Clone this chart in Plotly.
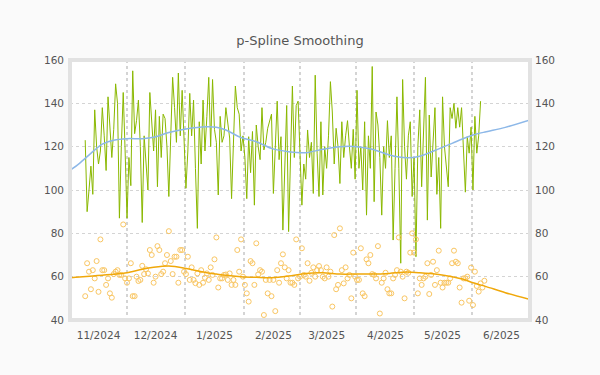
import pandas as pd
import plotly.graph_objects as go

# ---------------- data ----------------
green_start = "2024-10-25"
green_values = [
    123, 90, 100, 111, 98, 137, 120, 112, 118, 138,
    125, 109, 143, 130, 115, 128, 149, 140, 87, 120,
    145, 118, 87, 115, 102, 155, 126, 132, 141.5, 120,
    85, 125, 112, 100, 145, 130, 118, 137, 101.5, 134,
    115, 135, 133, 120, 97, 125, 152, 138, 122, 154,
    125, 146, 120, 100.8, 118, 144.6, 125, 141.5, 110, 82.3,
    131.5, 112, 141.5, 118, 134, 152, 120, 151, 128, 122,
    97.7, 134, 122, 125, 138, 130, 124, 96, 120, 148,
    138, 135, 118, 125, 115, 96, 124.6, 108, 127, 93,
    130, 120, 114, 138, 118.5, 122, 128.5, 132, 135, 98.4,
    120, 141, 114, 124.6, 81.5, 110, 139, 80.8, 115, 148,
    115, 139, 141, 118, 93, 112, 105, 127.7, 115, 122,
    98.4, 153, 117, 97, 131.5, 97.7, 120, 110, 125, 150,
    136, 112, 128.5, 120, 103, 131.5, 115, 125, 132, 120,
    110, 128, 105, 146, 110, 120, 100, 131.5, 88.4, 125,
    110, 157, 94.6, 136, 130, 115, 88.4, 120, 110, 132,
    115, 125, 76.9, 110, 143, 110, 66.2, 151, 120, 105,
    125, 131.5, 97, 115, 69.2, 120, 137, 101.5, 125, 152,
    86.1, 134.6, 106, 120, 138, 98, 115, 82.3, 143, 120,
    110, 101.5, 138, 133, 140, 128.5, 138, 129, 138, 120,
    99, 124.6, 117, 129, 100, 134, 117, 125, 141,
]

orange_start = "2024-10-25"
orange_values = [
    51, 66.2, 62.3, 54.2, 63, 59.2, 67.2, 53, 77.2, 63,
    63, 56.2, 59.2, 52.3, 50.3, 61.2, 62.3, 63, 60.8, 60.8,
    84.1, 59.2, 57.2, 59.2, 66.2, 51, 51, 60, 58, 58.5,
    65, 61.2, 63.4, 61.5, 72.3, 70, 57.2, 60, 74.1, 72.3,
    61.2, 62.3, 66.2, 70, 81, 67.2, 61.2, 69.2, 69.2, 57.2,
    72.3, 72.3, 62.3, 61.2, 69.2, 58.5, 64.3, 58.5, 57, 61.5,
    56.2, 63, 57.2, 59.5, 61.5, 58.5, 64.3, 60.8, 68, 78.1,
    55, 59.2, 59.2, 60.8, 61, 58.5, 61.5, 56.2, 58.5, 56.2,
    72.3, 62.3, 77.2, 60, 56.2, 52.3, 48.5, 67.2, 66.2, 56.2, 75.4,
    61, 63, 62.3, 42.3, 58.5, 52.3, 58.5, 51, 58.5, 44.1,
    63, 57.2, 66.2, 70.3, 64.3, 59.2, 63, 57.2, 57.2, 56.2,
    77.2, 59.2, 60, 73.1, 60.8, 60, 66.2, 58.1, 61.8, 64.3,
    60, 63, 64.9, 63, 60, 59.2, 64.3, 60, 62.3, 46.2,
    79.2, 54.2, 56.2, 82.3, 63, 56.9, 64.3, 59.2, 60.8, 50,
    71.1, 60, 58.5, 58.5, 73.1, 52.3, 51, 68, 66.2, 70,
    61.2, 60.8, 59.2, 74.1, 43, 57.2, 59.2, 61.8, 54.2, 52.3,
    52.3, 59.2, 60.8, 63, 78.1, 62.3, 60, 50, 62.3, 61.8,
    71.1, 80, 71.1, 77.2, 52.3, 59.2,
    56.2, 59.2, 60, 66.2, 52, 60.8, 66.9, 56.2, 63, 72,
    57.2, 55, 57.2, 57.2, 57.2, 59.2, 66.2, 72, 66.9, 66.2,
    55, 48, 59.2, 59.2, 60, 48.9, 64.2, 46.9, 62.3, 55.7,
    53.1, 56.9, 55, 58.1,
]

smooth_dates = [
    "2024-10-17", "2024-10-22", "2024-10-29", "2024-11-03", "2024-11-09",
    "2024-11-16", "2024-11-24", "2024-11-30", "2024-12-08", "2024-12-17",
    "2024-12-28", "2025-01-02", "2025-01-07", "2025-01-15", "2025-01-23",
    "2025-01-31", "2025-02-09", "2025-02-18", "2025-02-27", "2025-03-08",
    "2025-03-17", "2025-03-25", "2025-04-03", "2025-04-12", "2025-04-19",
    "2025-04-29", "2025-05-06", "2025-05-12", "2025-05-17", "2025-05-24",
    "2025-06-03", "2025-06-16",
]
blue_smooth = [
    109, 112.3, 117.7, 121.2, 123, 123.7, 123.7, 124.3, 126.5, 128.2,
    129.2, 129, 127.7, 124.2, 122.3, 119.2, 117.7, 117.2, 118.8, 120,
    120, 118.8, 116.2, 114.9, 115.6, 119, 121.5, 123.8, 125.4, 126.9,
    128.9, 132.3,
]
orange_smooth = [
    59.5, 59.8, 60.3, 60.7, 61.1, 61.8, 63.4, 64.3, 64.9, 63.8,
    61.8, 61.2, 60.6, 60, 59.7, 59.5, 60.3, 61.5, 61.8, 61.2,
    61.2, 61.2, 61.5, 62.1, 61.8, 61, 60, 58.8, 57.2, 55.4,
    52.6, 49.5,
]

month_ticks = ["2024-11-01", "2024-12-01", "2025-01-01", "2025-02-01",
               "2025-03-01", "2025-04-01", "2025-05-01", "2025-06-01"]
month_labels = ["11/2024", "12/2024", "1/2025", "2/2025",
                "3/2025", "4/2025", "5/2025", "6/2025"]
mid_month_grid = ["2024-11-16", "2024-12-16 12:00", "2025-01-16 12:00",
                  "2025-02-15", "2025-03-16 12:00", "2025-04-16",
                  "2025-05-16 12:00"]
y_ticks = [40, 60, 80, 100, 120, 140, 160]
x_range = ["2024-10-17", "2025-06-16"]

# ---------------- figure ----------------
green_dates = pd.date_range(green_start, periods=len(green_values), freq="D")
orange_dates = pd.date_range(orange_start, periods=len(orange_values), freq="D")

GREEN = "#8ab800"
BLUE = "#8db8e8"
ORANGE = "#f0a80a"
ORANGE_PT = "#f9c663"
TXT = "#555555"
GRID = "#d4d4d4"
FONT = "DejaVu Sans"

fig = go.Figure()
fig.add_trace(go.Scatter(x=green_dates, y=green_values, mode="lines",
                         line=dict(color=GREEN, width=1), hoverinfo="skip"))
fig.add_trace(go.Scatter(x=orange_dates, y=orange_values, mode="markers",
                         marker=dict(symbol="circle-open", size=5,
                                     color=ORANGE_PT, line=dict(width=1, color=ORANGE_PT)),
                         hoverinfo="skip"))
fig.add_trace(go.Scatter(x=smooth_dates, y=blue_smooth, mode="lines",
                         line=dict(color=BLUE, width=1.5, shape="spline", smoothing=0.8),
                         hoverinfo="skip"))
fig.add_trace(go.Scatter(x=smooth_dates, y=orange_smooth, mode="lines",
                         line=dict(color=ORANGE, width=1.5, shape="spline", smoothing=0.8),
                         hoverinfo="skip"))
# invisible trace for the right axis
fig.add_trace(go.Scatter(x=[x_range[0]], y=[None], yaxis="y2", showlegend=False,
                         hoverinfo="skip"))

fig.update_layout(
    width=600, height=375,
    margin=dict(l=70, r=70, t=60, b=55),
    paper_bgcolor="#fafafa",
    plot_bgcolor="#ffffff",
    showlegend=False,
    font=dict(family=FONT, size=10.5, color=TXT),
    title=dict(text="p-Spline Smoothing", x=0.5, xanchor="center",
               y=1 - 40 / 375, yref="container", yanchor="middle",
               font=dict(family=FONT, size=13, color=TXT)),
    xaxis=dict(type="date", range=x_range, tickmode="array",
               tickvals=month_ticks, ticktext=month_labels,
               showgrid=False, zeroline=False, showline=False, ticks="",
               ticklabelstandoff=7,
               minor=dict(tickmode="array", tickvals=mid_month_grid,
                          showgrid=True, gridcolor=GRID, griddash="dot",
                          gridwidth=1.5, ticks="")),
    yaxis=dict(range=[40, 160], tickvals=y_ticks, showgrid=True,
               gridcolor=GRID, griddash="dot", gridwidth=1,
               zeroline=False, showline=False, ticks="",
               ticklabelstandoff=5),
    yaxis2=dict(range=[40, 160], tickvals=y_ticks, overlaying="y",
                side="right", showgrid=False, zeroline=False,
                showline=False, ticks="", ticklabelstandoff=4),
    shapes=[dict(type="rect", xref="paper", yref="paper", x0=0, x1=1,
                 y0=0, y1=1, line=dict(color="#e2e2e2", width=4),
                 layer="above")],
)

fig.write_html("out.html",
               config={"displayModeBar": False},
               post_script="document.body.style.margin='0px';")
